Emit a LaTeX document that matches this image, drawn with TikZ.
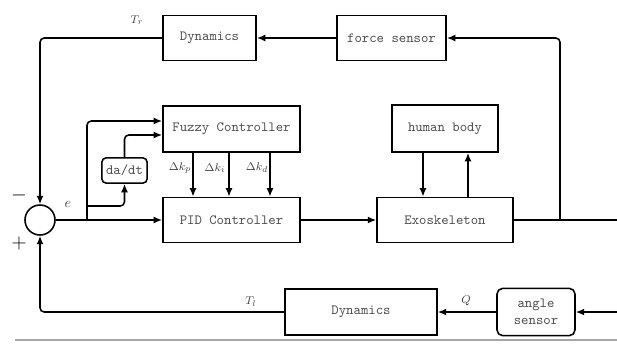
\documentclass[tikz,border=0pt]{standalone}
\usetikzlibrary{arrows.meta}
\begin{document}
\begin{tikzpicture}[x=0.025cm,y=-0.025cm,
  blk/.style={draw,line width=1.1pt,minimum height=1.13cm,inner sep=1pt,font=\ttfamily,text=black!70},
  conn/.style={line width=1.1pt,-{Latex[length=6pt,width=5pt]}},
  wire/.style={line width=1.1pt},
  lbl/.style={font=\footnotesize,text=black!75}]
\useasboundingbox (0,0) rectangle (617,344);
% blocks
\node[blk,minimum width=2.33cm] (dyntop) at (209.5,38) {Dynamics};
\node[blk,minimum width=2.73cm] (force) at (391.5,38) {force sensor};
\node[blk,minimum width=3.43cm,minimum height=1.15cm] (fuzzy) at (231.5,129) {Fuzzy Controller};
\node[blk,minimum width=3.43cm] (pid) at (231.5,220) {PID Controller};
\node[blk,minimum width=1.13cm,minimum height=0.63cm,rounded corners=3pt] (dadt) at (124.5,170.5) {da/dt};
\node[blk,minimum width=2.65cm,minimum height=1.18cm] (human) at (445,128.5) {human body};
\node[blk,minimum width=3.4cm] (exo) at (445,220) {Exoskeleton};
\node[blk,minimum width=3.8cm,minimum height=1.15cm] (dynbot) at (361,312) {Dynamics};
\node[blk,minimum width=1.95cm,minimum height=1.18cm,rounded corners=4pt,align=center] (angle) at (536,312) {angle\\sensor};
\node[draw,circle,line width=1.1pt,minimum size=0.75cm,inner sep=0pt] (sum) at (40,220) {};
% signs and labels
\node[font=\Large] (minus) at (19,195) {$-$};
\node[font=\Large] (plus) at (19,243) {$+$};
\node[text=black!75] (e) at (68,204) {$e$};
\node[lbl] (tr) at (137,20) {$T_r$};
\node[lbl] (tl) at (251,302) {$T_l$};
\node[lbl] (q) at (466,301) {$Q$};
% top loop
\draw[conn] (force.west) -- (dyntop.east);
\draw[conn,rounded corners=3pt] (dyntop.west) -| (sum.north);
\draw[conn] (sum.east) -- (pid.west);
% error branches
\coordinate (esplit) at (87,220);
\coordinate (dbranch) at (87,206);
\coordinate (fin1) at (163,121);
\coordinate (fin2) at (163,135);
\draw[conn,rounded corners=3pt] (esplit) |- (fuzzy.west |- fin1);
\draw[conn,rounded corners=3pt] (dbranch) -| (dadt.south);
\draw[conn,rounded corners=3pt] (dadt.north) |- (fuzzy.west |- fin2);
\foreach \xx/\lx/\sub in {193/180/p,229/215/i,270/257/d}{
  \draw[conn] (fuzzy.south -| \xx,0) -- (pid.north -| \xx,0);
  \node[lbl] (k\sub) at (\lx,168) {$\Delta k_\sub$};
}
% plant
\draw[conn] (pid.east) -- (exo.west);
\draw[conn] (human.south -| 423,0) -- (exo.north -| 423,0);
\draw[conn] (exo.north -| 468,0) -- (human.south -| 468,0);
\coordinate (outR) at (617,220);
\coordinate (tap) at (560,220);
\draw[wire] (exo.east) -- (outR);
\draw[conn,rounded corners=3pt] (tap) |- (force.east);
% bottom loop
\coordinate (inR) at (617,312);
\draw[conn] (inR) -- (angle.east);
\draw[conn] (angle.west) -- (dynbot.east);
\draw[conn,rounded corners=3pt] (dynbot.west) -| (sum.south);
\draw[black!35,line width=1.5pt] (15,340) -- (617,340);
\end{tikzpicture}
\end{document}
